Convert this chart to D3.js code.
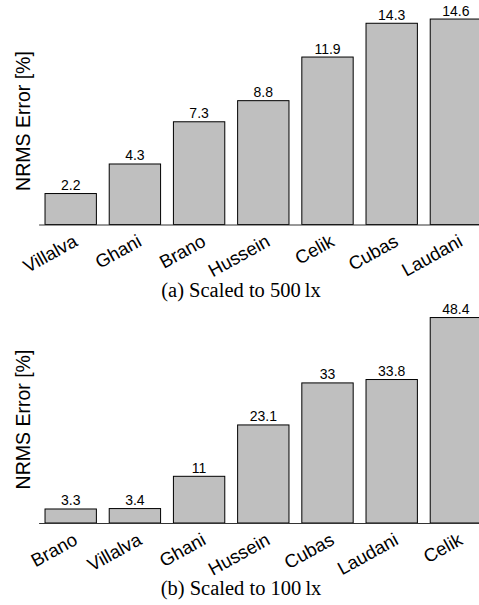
<!DOCTYPE html>
<html>
<head>
<meta charset="utf-8">
<script src="https://cdn.jsdelivr.net/npm/d3@7"></script>
<style>
  html, body { margin: 0; padding: 0; background: #fff; }
  svg { display: block; }
</style>
</head>
<body>
<svg id="chart" width="479" height="605"></svg>
<script>
// Panel (a): scaled to 500 lx
const catsA = ["Villalva", "Ghani", "Brano", "Hussein", "Celik", "Cubas", "Laudani"];
const valsA = [2.2, 4.3, 7.3, 8.8, 11.9, 14.3, 14.6];
const labelsA = ["2.2", "4.3", "7.3", "8.8", "11.9", "14.3", "14.6"];
const captionA = "(a) Scaled to 500\u2009lx";

// Panel (b): scaled to 100 lx
const catsB = ["Brano", "Villalva", "Ghani", "Hussein", "Cubas", "Laudani", "Celik"];
const valsB = [3.3, 3.4, 11, 23.1, 33, 33.8, 48.4];
const labelsB = ["3.3", "3.4", "11", "23.1", "33", "33.8", "48.4"];
const captionB = "(b) Scaled to 100\u2009lx";

const yTitle = "NRMS Error [%]";

const svg = d3.select("#chart");

function panel(cats, vals, labels, caption, offY) {
  const g = svg.append("g").attr("transform", `translate(0,${offY})`);
  const plotBottom = 224.5, plotTop = -1.5;
  const x = d3.scaleBand().domain(cats)
    .range([38.6, 38.6 + 7 * 64.2])
    .paddingInner(0.2).paddingOuter(0.1);
  const y = d3.scaleLinear().domain([0, d3.max(vals) * 1.1]).range([plotBottom, plotTop]);

  // bars
  g.selectAll("rect.bar").data(vals).join("rect")
    .attr("class", "bar")
    .attr("x", (d, i) => x(cats[i]))
    .attr("y", d => y(d))
    .attr("width", x.bandwidth())
    .attr("height", d => y(0) - y(d))
    .attr("fill", "#bfbfbf")
    .attr("stroke", "#000")
    .attr("stroke-width", 1);

  // baseline axis
  const ax = g.append("g").attr("transform", `translate(0,${y(0)})`)
    .call(d3.axisBottom(x).tickSize(0).tickFormat(""));
  ax.select(".domain").attr("stroke", "#333").attr("stroke-width", 1.2);

  // category labels
  g.selectAll("text.cat").data(cats).join("text")
    .attr("class", "cat")
    .attr("text-anchor", "end")
    .attr("transform", d => `translate(${x(d) + x.bandwidth() / 2 + 8},${y(0) + 20.5}) rotate(-29)`)
    .attr("font-family", "'Liberation Sans', Arial, Helvetica, sans-serif")
    .attr("font-size", 18.5)
    .attr("fill", "#000")
    .text(d => d);

  // value labels
  g.selectAll("text.val").data(vals).join("text")
    .attr("class", "val")
    .attr("text-anchor", "middle")
    .attr("x", (d, i) => x(cats[i]) + x.bandwidth() / 2)
    .attr("y", d => y(d) - 3.5)
    .attr("font-family", "'Liberation Sans', Arial, Helvetica, sans-serif")
    .attr("font-size", 14)
    .attr("fill", "#000")
    .text((d, i) => labels[i]);

  // y title
  g.append("text")
    .attr("transform", `translate(29.5,121) rotate(-90)`)
    .attr("text-anchor", "middle")
    .attr("font-family", "'Liberation Sans', Arial, Helvetica, sans-serif")
    .attr("font-size", 19.5)
    .attr("fill", "#000")
    .text(yTitle);

  // caption
  g.append("text")
    .attr("x", 241)
    .attr("y", 296.7)
    .attr("text-anchor", "middle")
    .attr("font-family", "'Liberation Serif', 'Times New Roman', serif")
    .attr("font-size", 20.5)
    .attr("fill", "#000")
    .text(caption);
}

panel(catsA, valsA, labelsA, captionA, 0);
panel(catsB, valsB, labelsB, captionB, 298.5);
</script>
</body>
</html>
